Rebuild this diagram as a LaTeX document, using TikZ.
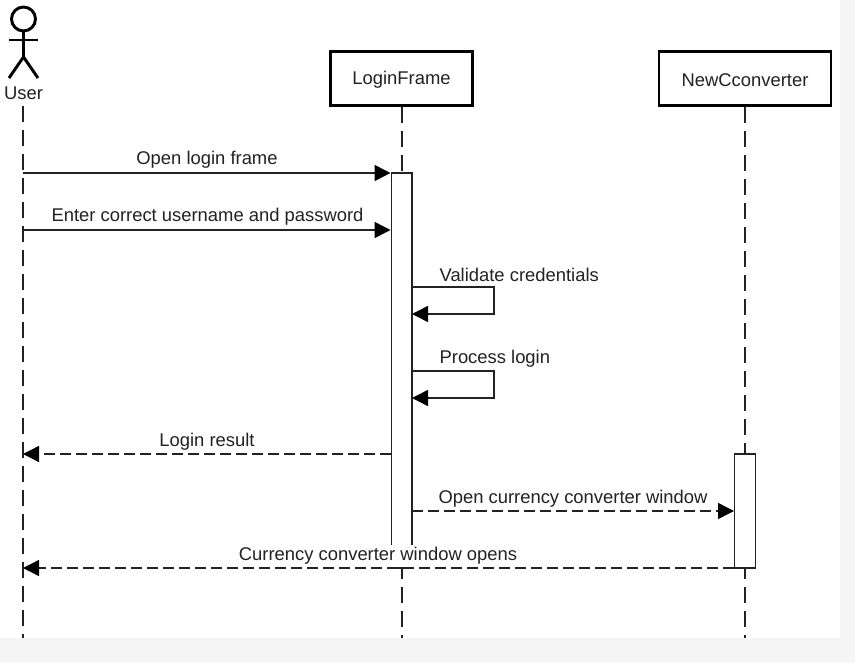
\documentclass[tikz,border=0pt]{standalone}
\usepackage{fontspec}
\setmainfont{Liberation Sans}
\usetikzlibrary{arrows.meta,calc}
\definecolor{pagegray}{HTML}{F5F5F5}
\definecolor{inkgray}{HTML}{222222}
\tikzset{
  classbox/.style={draw=black, line width=2.2pt, fill=white, minimum width=107pt, minimum height=41pt, inner sep=0pt},
  activation/.style={draw=inkgray, line width=1.1pt, fill=white, minimum width=15.4pt, inner sep=0pt},
  lifeline/.style={draw=inkgray, line width=1.1pt, dash pattern=on 12pt off 6pt},
  msg/.style={draw=inkgray, line width=1.1pt, -{Triangle[length=12pt,width=12pt,color=black]}},
  reply/.style={msg, dash pattern=on 8pt off 4pt},
  label/.style={text=inkgray, font=\fontsize{13.8pt}{15pt}\selectfont, inner sep=1pt, yshift=-1.2pt},
  stick/.style={draw=black, line width=2.2pt}
}
\begin{document}
\begin{tikzpicture}[x=0.75pt, y=-0.75pt]
    \useasboundingbox (0,0) rectangle (855,663);
    \fill[pagegray] (0,0) rectangle (855,663);
    \fill[white] (0,0) rectangle (840,638);

    % Actor
    \draw[stick] (23.5,19) circle (9pt);
    \draw[stick] (23.5,31) -- (23.5,57);
    \draw[stick] (9,40) -- (38,40);
    \draw[stick] (9,78) -- (23.5,57) -- (38,78);
    \node[label] (user) at (23.5,92) {User};

    % Classes
    \node[classbox] (login) at (401.5,78.5) {};
    \node[classbox, minimum width=129pt] (conv) at (745,78.5) {};
    \node[label] at (login.center) {LoginFrame};
    \node[label] at (conv.center) {NewCconverter};

    % Lifelines
    \coordinate (userTop) at (23,106);
    \coordinate (userEnd) at (23,638);
    \coordinate (loginEnd) at (402,638);
    \coordinate (convEnd) at (745,638);
    \draw[lifeline] (userTop) -- (userEnd);
    \draw[lifeline] (login.south -| loginEnd) -- (loginEnd);
    \draw[lifeline] (conv.south) -- (convEnd);

    % Activations
    \node[activation, minimum height=296pt] (loginBar) at (401.5,370.5) {};
    \node[activation, minimum height=85.5pt] (convBar) at (745,511) {};

    % Messages
    \coordinate (m1) at (23,173);
    \coordinate (m2) at (23,230);
    \coordinate (m5) at (23,454);
    \coordinate (m6) at (412,511);
    \coordinate (m7) at (23,568);
    \draw[msg] (m1) -- (m1 -| loginBar.west);
    \draw[msg] (m2) -- (m2 -| loginBar.west);
    \draw[reply] (m5 -| loginBar.west) -- (m5);
    \draw[reply] (m6) -- (m6 -| convBar.west);
    \draw[reply] (m7 -| convBar.west) -- (m7);

    % Self calls
    \coordinate (s1) at (412,287);
    \coordinate (s2) at (412,371);
    \draw[msg] (s1) -- ++(82,0) -- ++(0,27) -- ++(-82,0);
    \draw[msg] (s2) -- ++(82,0) -- ++(0,27) -- ++(-82,0);

    % Labels
    \node[label] (lb1) at (207,158) {Open login frame};
    \node[label] (lb2) at (207.5,215) {Enter correct username and password};
    \node[label, anchor=west] (lb3) at (438,273) {Validate credentials};
    \node[label, anchor=west] (lb4) at (438,357) {Process login};
    \node[label] (lb5) at (207,440) {Login result};
    \node[label] (lb6) at (573,497) {Open currency converter window};
    \node[label, fill=white, minimum height=16.5pt] (lb7) at (378,554) {Currency converter window opens};
  \end{tikzpicture}
\end{document}
